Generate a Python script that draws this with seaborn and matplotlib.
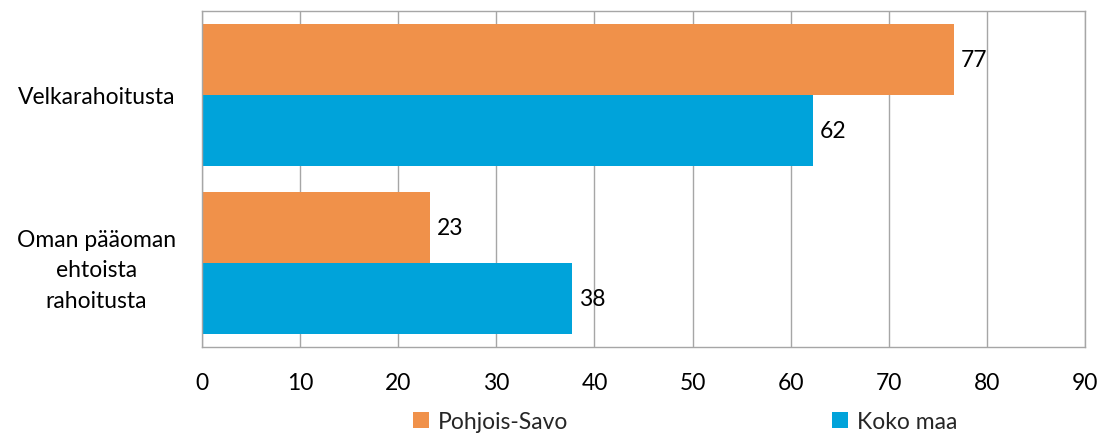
import matplotlib
matplotlib.use("Agg")
import matplotlib.pyplot as plt
import seaborn as sns
import pandas as pd
from matplotlib.patches import Patch

categories = ["Velkarahoitusta", "Oman pääoman\nehtoista\nrahoitusta"]
series = ["Pohjois-Savo", "Koko maa"]
pohjois_savo = [76.6, 23.2]
koko_maa = [62.3, 37.7]
labels_ps = ["77", "23"]
labels_km = ["62", "38"]
xticks = [0, 10, 20, 30, 40, 50, 60, 70, 80, 90]
colors = ["#F0914A", "#00A3DA"]

df = pd.DataFrame({
    "category": categories * 2,
    "series": [series[0]] * 2 + [series[1]] * 2,
    "value": pohjois_savo + koko_maa,
})

sns.set_theme(style="white")
plt.rcParams["font.family"] = ["Lato", "DejaVu Sans"]
FS = 16.5

fig = plt.figure(figsize=(11.09, 4.35), dpi=100)
ax = fig.add_axes([202 / 1109, 1 - 348 / 435, (1085 - 202) / 1109, (348 - 12) / 435])

sns.barplot(data=df, y="category", x="value", hue="series", palette=colors,
            orient="h", width=0.84, ax=ax, legend=False, saturation=1,
            linewidth=0)

for cont, labs in zip(ax.containers, [labels_ps, labels_km]):
    ax.bar_label(cont, labels=labs, padding=5, fontsize=FS, color="#000000")

ax.set_xlim(0, 90)
ax.set_ylim(1.5, -0.5)
ax.set_xticks(xticks)
ax.set_xticklabels([str(t) for t in xticks], fontsize=FS)
ax.tick_params(axis="x", length=0, pad=18, labelcolor="#000000")
ax.tick_params(axis="y", length=0, pad=76, labelsize=FS, labelcolor="#000000")
for lab in ax.get_yticklabels():
    lab.set_horizontalalignment("center")
    lab.set_multialignment("center")
    lab.set_linespacing(1.55)
ax.set_xlabel("")
ax.set_ylabel("")
ax.grid(axis="x", color="#A6A6A6", linewidth=1)
ax.set_axisbelow(True)
for s in ax.spines.values():
    s.set_color("#A6A6A6")
    s.set_linewidth(1)

handles = [Patch(facecolor=c, edgecolor="none") for c in colors]
fig.legend(handles, series, loc="center", bbox_to_anchor=(0.618, 0.028), ncol=2,
           frameon=False, fontsize=FS, handlelength=0.7, handleheight=0.7,
           handletextpad=0.4, columnspacing=11.5)

fig.savefig("out.png", dpi=100)
